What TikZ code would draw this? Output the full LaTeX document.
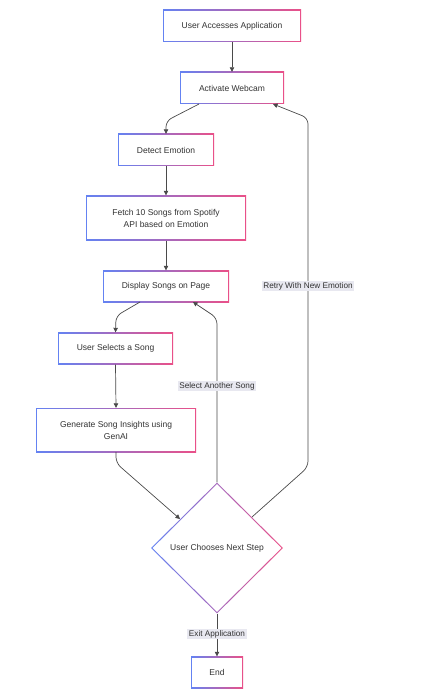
\documentclass[tikz,border=0pt]{standalone}
\usepackage{fontspec}
\setmainfont{Liberation Sans}
\usetikzlibrary{shapes.geometric,arrows.meta}
\definecolor{gblue}{HTML}{6482F2}
\definecolor{gpink}{HTML}{EA5088}
\definecolor{lblbg}{HTML}{E8E8F0}
\definecolor{txt}{HTML}{333333}
\definecolor{edgec}{HTML}{4A4A4A}
\tikzset{
  gbox/.style={rectangle, inner sep=0pt, left color=gblue, right color=gpink,
    text=txt, font=\fontsize{8.5}{12}\selectfont, align=center,
    path picture={\fill[white] ([xshift=1.1pt,yshift=-1.1pt]path picture bounding box.north west)
      rectangle ([xshift=-1.1pt,yshift=1.1pt]path picture bounding box.south east);}},
  gdiam/.style={diamond, inner sep=0pt, left color=gblue, right color=gpink,
    text=txt, font=\fontsize{8.5}{12}\selectfont, align=center,
    path picture={\fill[white] ([yshift=-1.6pt]path picture bounding box.north)
      -- ([xshift=-1.6pt]path picture bounding box.east)
      -- ([yshift=1.6pt]path picture bounding box.south)
      -- ([xshift=1.6pt]path picture bounding box.west) -- cycle;}},
  conn/.style={draw=edgec, line width=0.7pt, rounded corners=6pt,
    -{Triangle[length=4.5pt,width=4.5pt]}},
  lbl/.style={fill=lblbg, text=txt, font=\fontsize{8.2}{10}\selectfont,
    inner xsep=1.5pt, inner ysep=1.5pt}
}
\begin{document}
\begin{tikzpicture}[x=1pt,y=-1pt]
\useasboundingbox[fill=white] (0,0) rectangle (422,700);

\node[gbox, minimum width=138pt, minimum height=32pt] (b1) at (232,26) {User Accesses Application};
\node[gbox, minimum width=104pt, minimum height=32pt] (b2) at (232,88) {Activate Webcam};
\node[gbox, minimum width=96pt, minimum height=32pt] (b3) at (166,150) {Detect Emotion};
\node[gbox, minimum width=160pt, minimum height=45pt] (b4) at (166,218) {Fetch 10 Songs from Spotify\\API based on Emotion};
\node[gbox, minimum width=126pt, minimum height=32pt] (b5) at (166,286.5) {Display Songs on Page};
\node[gbox, minimum width=115pt, minimum height=32pt] (b6) at (115.5,348.5) {User Selects a Song};
\node[gbox, minimum width=160pt, minimum height=44pt] (b7) at (116,430) {Generate Song Insights using\\GenAI};
\node[gdiam, minimum width=132pt, minimum height=131pt] (d) at (217,548) {User Chooses Next Step};
\node[gbox, minimum width=52pt, minimum height=32pt] (e) at (217,672.5) {End};

\coordinate (c2a) at (199,104);
\coordinate (c5a) at (140,302);
\coordinate (c5b) at (193,302);
\coordinate (c2b) at (273,104);
\coordinate (c7a) at (116,452);
\coordinate (dl) at (180,519);
\coordinate (dr) at (252,517);

\draw[conn] (b1.south) -- (b2.north);
\draw[conn] (c2a) -- (166,121) -- (b3.north);
\draw[conn] (b3.south) -- (b4.north);
\draw[conn] (b4.south) -- (b5.north);
\draw[conn] (c5a) -- (116,316) -- (b6.north);
\draw[conn] (b6.south) -- (b7.north);
\draw[conn] (c7a) -- (116,463) -- (dl);
\draw[conn] (d.north) -- (217,318) -- (c5b);
\draw[conn] (dr) -- (308,467) -- (308,118) -- (c2b);
\draw[conn] (d.south) -- (e.north);

\node[lbl] (l1) at (308,286) {Retry With New Emotion};
\node[lbl] (l2) at (217,386) {Select Another Song};
\node[lbl] (l3) at (217,634) {Exit Application};
\end{tikzpicture}
\end{document}
